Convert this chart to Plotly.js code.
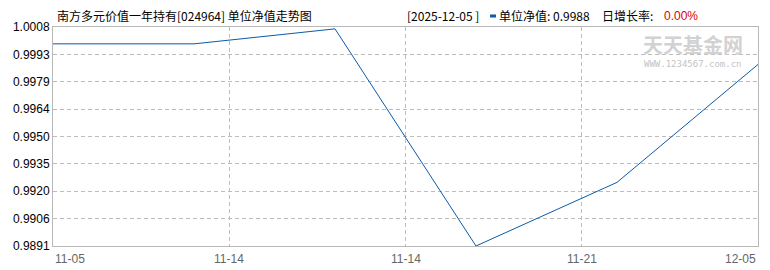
<!DOCTYPE html>
<html>
<head>
<meta charset="utf-8">
<script src="https://cdn.plot.ly/plotly-3.0.1.min.js"></script>
<style>html,body{margin:0;padding:0;background:#fff;}#chart{width:770px;height:270px;}</style>
</head>
<body>
<div id="chart"></div>
<script>
// ---- data ----
const dates = ["2025-11-05", "2025-11-07", "2025-11-14", "2025-11-21", "2025-11-28", "2025-12-05"];
const navValues = [0.9999, 0.9999, 1.0007, 0.9891, 0.9925, 0.9988];
const xTickPos = [0, 1.25, 2.5, 3.75, 5];
const xTickLabels = ["11-05", "11-14", "11-14", "11-21", "12-05"];
const yTickVals = [0.9891, 0.99056, 0.99203, 0.99349, 0.99495, 0.99641, 0.99788, 0.99934, 1.0008];
const yTickLabels = ["0.9891", "0.9906", "0.9920", "0.9935", "0.9950", "0.9964", "0.9979", "0.9993", "1.0008"];
const fundTitle = "南方多元价值一年持有[024964] 单位净值走势图";
const lastDate = dates[dates.length - 1];
const lastNav = navValues[navValues.length - 1];
const dailyGrowth = "0.00%";

// ---- layout geometry ----
const W = 770, H = 270;
const M = {l: 53, r: 12, t: 27, b: 24};
const PW = W - M.l - M.r, PH = H - M.t - M.b;
const px = p => (p - M.l) / PW;
const py = p => (H - M.b - p) / PH;

const xIdx = dates.map((d, i) => i);
const lineColor = "#0d5aa7";
const font = "Liberation Sans, Arial, sans-serif";
const cjk = "Noto Sans CJK SC, sans-serif";

const annotations = [];
// x tick labels
xTickPos.forEach((v, i) => {
  const anchor = i === 0 ? "left" : (i === xTickPos.length - 1 ? "right" : "center");
  annotations.push({
    x: v, xref: "x", y: 0, yref: "paper", yanchor: "top", yshift: -4,
    xanchor: anchor, showarrow: false, text: xTickLabels[i],
    font: {family: font, size: 12, color: "#666"}
  });
});
// title
annotations.push({x: px(55), xref: "paper", y: py(16), yref: "paper", xanchor: "left", yanchor: "middle",
  showarrow: false, text: fundTitle, font: {family: cjk, size: 12, color: "#000"}});
annotations.push({x: px(405), xref: "paper", y: py(16), yref: "paper", xanchor: "left", yanchor: "middle",
  showarrow: false, text: "[" + lastDate + " ]", font: {family: cjk, size: 12, color: "#000"}});
annotations.push({x: px(497), xref: "paper", y: py(16), yref: "paper", xanchor: "left", yanchor: "middle",
  showarrow: false, text: "单位净值: " + lastNav.toFixed(4), font: {family: cjk, size: 12, color: "#000"}});
annotations.push({x: px(600), xref: "paper", y: py(16), yref: "paper", xanchor: "left", yanchor: "middle",
  showarrow: false, text: "日增长率:", font: {family: cjk, size: 12, color: "#000"}});
annotations.push({x: px(662), xref: "paper", y: py(16), yref: "paper", xanchor: "left", yanchor: "middle",
  showarrow: false, text: dailyGrowth, font: {family: font, size: 12, color: "#e00000"}});
// watermark
annotations.push({x: px(693), xref: "paper", y: py(44), yref: "paper", xanchor: "center", yanchor: "middle",
  showarrow: false, borderpad: 0, text: "<b>天天基金网</b>", font: {family: cjk, size: 20, color: "#d2d2d2"}});
annotations.push({x: px(693), xref: "paper", y: py(64), yref: "paper", xanchor: "center", yanchor: "middle",
  showarrow: false, borderpad: 0, text: "WWW.1234567.com.cn", font: {family: "DejaVu Sans Mono, monospace", size: 9, color: "#c4c4c4"}});

const shapes = [
  {type: "rect", xref: "paper", yref: "paper", x0: px(490), x1: px(496), y0: py(17.5), y1: py(14.5),
   fillcolor: lineColor, line: {width: 0}}
];

const trace = {
  x: xIdx, y: navValues, type: "scatter", mode: "lines",
  line: {color: lineColor, width: 1}, hoverinfo: "skip"
};

const layout = {
  width: W, height: H, margin: M,
  paper_bgcolor: "#fff", plot_bgcolor: "#fff",
  showlegend: false,
  xaxis: {
    range: [0, 5], tickvals: xTickPos, showticklabels: false, ticks: "",
    showgrid: true, gridcolor: "#bdbdbd", griddash: "4px,3px", gridwidth: 1,
    showline: true, linecolor: "#b8b8b8", linewidth: 1, mirror: true, zeroline: false, fixedrange: true
  },
  yaxis: {
    range: [0.9891, 1.0008], tickvals: yTickVals, ticktext: yTickLabels, ticks: "",
    tickfont: {family: font, size: 12, color: "#000"},
    showgrid: true, gridcolor: "#bdbdbd", griddash: "4px,3px", gridwidth: 1,
    showline: true, linecolor: "#b8b8b8", linewidth: 1, mirror: true, zeroline: false, fixedrange: true
  },
  annotations: annotations,
  shapes: shapes
};

Plotly.newPlot("chart", [trace], layout, {staticPlot: true, displayModeBar: false});
</script>
</body>
</html>
